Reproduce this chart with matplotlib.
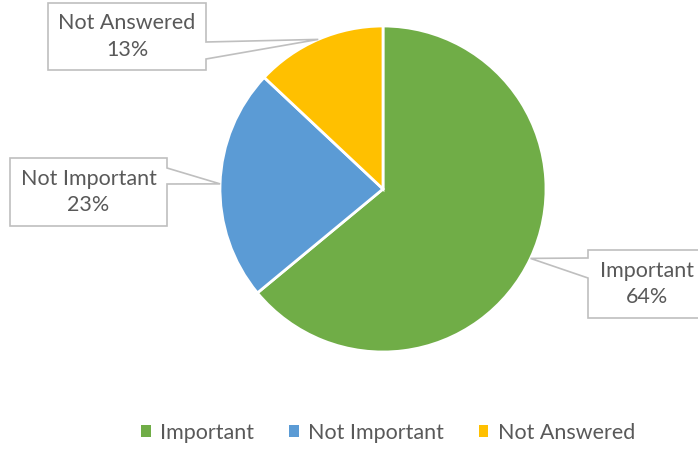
import numpy as np
import matplotlib
matplotlib.use('Agg')
import matplotlib.pyplot as plt
from matplotlib.patches import Polygon, Patch

labels = ['Important', 'Not Important', 'Not Answered']
shares = [64, 23, 13]
colors = ['#70AD47', '#5B9BD5', '#FFC000']

W, H = 698, 450
txtcol = '#595959'
plt.rcParams['font.family'] = ['Lato', 'DejaVu Sans']

fig = plt.figure(figsize=(W / 100, H / 100), dpi=100)
ax = fig.add_axes([0, 0, 1, 1])

# pie geometry in pixel units (y measured from the bottom)
cx, cy, R = 383, H - 189, 163
wedges, _ = ax.pie(shares, colors=colors, startangle=90, counterclock=False,
                   center=(cx, cy), radius=R, frame=True,
                   wedgeprops=dict(edgecolor='white', linewidth=2))
ax.set_xlim(0, W)
ax.set_ylim(0, H)
ax.set_aspect('equal')
ax.axis('off')


def callout(box, side, base, wedge, text):
    """box = (x0, ytop, x1, ybot) in pixel rows; side = edge carrying the pointer"""
    x0, yt, x1, yb = box
    mid = np.deg2rad((wedge.theta1 + wedge.theta2) / 2)
    tip = (cx + R * np.cos(mid), cy + R * np.sin(mid))
    b0, b1 = [H - b for b in base]
    yt, yb = H - yt, H - yb
    if side == 'right':
        pts = [(x0, yt), (x1, yt), (x1, b0), tip, (x1, b1), (x1, yb), (x0, yb)]
    else:
        pts = [(x0, yt), (x1, yt), (x1, yb), (x0, yb), (x0, b1), tip, (x0, b0)]
    ax.add_patch(Polygon(pts, closed=True, facecolor='white',
                         edgecolor='#BFBFBF', linewidth=1.2, zorder=5))
    ax.text((x0 + x1) / 2, (yt + yb) / 2, text, ha='center', va='center',
            fontsize=15.5, color=txtcol, linespacing=1.4, zorder=6)


boxes = [((588, 250, 706, 318), 'left', (258, 278)),
         ((10, 158, 167, 226), 'right', (168, 184)),
         ((48, 3, 206, 70), 'right', (42, 59))]
for w, lab, val, (box, side, base) in zip(wedges, labels, shares, boxes):
    callout(box, side, base, w, '{}\n{}%'.format(lab, val))

handles = [Patch(facecolor=c, edgecolor='none') for c in colors]
fig.legend(handles, labels, loc='center', bbox_to_anchor=(0.556, 0.038),
           ncol=3, frameon=False, fontsize=15.5, labelcolor=txtcol,
           handlelength=0.45, handleheight=0.45, handletextpad=0.45,
           columnspacing=1.6)

fig.savefig('out.png', dpi=100)
